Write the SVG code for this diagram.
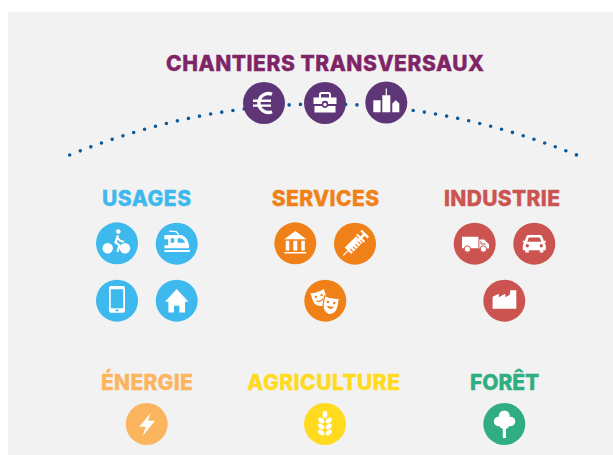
<svg xmlns="http://www.w3.org/2000/svg" width="613" height="455" viewBox="0 0 613 455">
<style>
text{font-family:"Inter","Liberation Sans",sans-serif;font-weight:800;font-size:21px;stroke-width:.35px}
.w{fill:#fff}
.ws{fill:none;stroke:#fff}
.pu{fill:#5e3678}.bl{fill:#3db9ee}.or{fill:#f08119}.re{fill:#cc5450}.en{fill:#fbb55f}.ag{fill:#ffda1f}.fo{fill:#30ae82}
.tp{fill:#7f2466;stroke:#7f2466}.tb{fill:#3db9ee;stroke:#3db9ee}.to{fill:#f08119;stroke:#f08119}.tr{fill:#cc5450;stroke:#cc5450}.te{fill:#fbb55f;stroke:#fbb55f}.ta{fill:#ffda1f;stroke:#ffda1f}.tf{fill:#30ae82;stroke:#30ae82}
</style>
<defs>
<circle id="d" r="21"/>
</defs>
<rect x="8" y="12" width="605" height="443" fill="#f2f2f2"/>
<g id="connectors">
<path d="M69.7 155Q323.200 53 576.700 155" fill="none" stroke="#0a5a9c" stroke-width="3.600" stroke-linecap="round" stroke-dasharray="0 11.305"/>
</g>
<g id="title"><text x="166" y="71.300" class="tp" textLength="318">CHANTIERS TRANSVERSAUX</text></g>
<g id="chantier-euro" transform="translate(264 103)"><use href="#d" class="pu"/>
<path d="M8 -8.800A9.500 9.500 0 1 0 8 8.800" class="ws" stroke-width="3.400"/><path d="M-11 -2.200H7M-11 2.600H7" class="ws" stroke-width="2.400"/></g>
<g id="chantier-mallette" transform="translate(325 103)"><use href="#d" class="pu"/>
<path d="M-5 -5V-8.500Q-5 -10 -3.500 -10H3.500Q5 -10 5 -8.500V-5" class="ws" stroke-width="2"/>
<path class="w" d="M-11.500 -5.500H11.500V1H3.200A3.200 3.200 0 0 0 -3.200 1H-11.500ZM-10.500 3H-3A3.200 3.200 0 0 0 3 3H10.500V9.500H-10.500Z"/>
<circle r="1.700" cy="1.500" class="w"/></g>
<g id="chantier-ville" transform="translate(386.300 102.500)"><use href="#d" class="pu"/>
<path class="w" d="M-13 -2.300H-5.700V9.700H-13ZM-4 -7.300H-.6V-14H.6V-7.300H4V9.700H-4ZM6 1 9.500 -2.300 13 1V9.700H6Z"/></g>

<g id="usages"><text x="102" y="205.700" class="tb" textLength="89">USAGES</text></g>
<g id="usages-velo" transform="translate(117 243.300)"><use href="#d" class="bl"/>
<circle cx="-9.300" cy="5" r="5.200" class="w"/><circle cx="8" cy="5" r="5.200" class="w"/><circle cx="1.300" cy="-11.700" r="2.300" class="w"/>
<path d="M1 -8 -1.500 -1 2.500 2 .5 8.500M0 -6 3 -2.500 7 -1.500" class="ws" stroke-width="2.200"/>
<path d="M-.8 1.500-1.800 6" stroke="#3db9ee" stroke-width="1" fill="none"/></g>
<g id="usages-train" transform="translate(176.700 243.700)"><use href="#d" class="bl"/>
<path class="w" fill-rule="evenodd" d="M-12.300 -8.700H3Q10 -8.700 12.300 1V4.500H-12.300V1.500H-8.500V-4.500H-12.300ZM-6 -5.500V-1H-2.500V-5.500ZM1 -5.500V-1H8.500Q6.500 -5.500 3 -5.500ZM-12.300 6.300H13.300V8.300H-12.300Z"/>
<path d="M-7.500 -12.500-.5 -12 2 -9" class="ws" stroke-width="1.200"/></g>
<g id="usages-mobile" transform="translate(117 300.700)"><use href="#d" class="bl"/>
<path class="w" fill-rule="evenodd" d="M-6 -14.700H6A2 2 0 0 1 8 -12.700V10A2 2 0 0 1 6 12H-6A2 2 0 0 1 -8 10V-12.700A2 2 0 0 1 -6 -14.700ZM-6.200 -11.500V7.500H6.200V-11.500Z"/>
<rect x="-1.500" y="8.800" width="3" height="1.800" class="bl"/></g>
<g id="usages-maison" transform="translate(176.700 300.700)"><use href="#d" class="bl"/>
<path class="w" fill-rule="evenodd" d="M0 -11.700 11.700 1H8.300V11.700H2.700V5H-2.700V11.700H-8.300V1H-11.700Z"/></g>

<g id="services"><text x="271.700" y="205.700" class="to" textLength="107.300">SERVICES</text></g>
<g id="services-musee" transform="translate(295.300 243.300)"><use href="#d" class="or"/>
<path class="w" d="M0 -12.300 11 -4H-11ZM-9.500 -2.500H-6V7.300H-9.500ZM-2 -2.500H2V7.300H-2ZM6 -2.500H9.500V7.300H6ZM-11 8.700H11V10.300H-11Z"/></g>
<g id="services-seringue" transform="translate(355 243.700)"><use href="#d" class="or"/>
<g transform="rotate(-45)">
<path class="w" d="M-16.500 -.6H-9V.6H-16.500ZM-10 -4.500 -8.500 -4.500H6V4.500H-8.500L-10 4.500ZM6 -1.300H12.500V1.300H6ZM12.500 -5H14.800V5H12.500ZM7 -5.500H9V5.500H7Z"/>
<path d="M-7 .5V4.600M-3.500 .5V4.600M0 .5V4.600M3.500 .5V4.600" stroke="#f08119" stroke-width="1.100"/></g></g>
<g id="services-theatre" transform="translate(325.300 300.700)"><use href="#d" class="or"/>
<g transform="translate(-6.300 -3.800) rotate(-18)"><path class="w" d="M-7 -6Q0 -4 7 -6V1Q7 8 0 9.500Q-7 8 -7 1Z"/>
<circle cx="-3" cy="-1" r="1.200" class="or"/><circle cx="3" cy="-1" r="1.200" class="or"/><path d="M-3.500 3Q0 6 3.500 3" fill="none" stroke="#f08119" stroke-width="1.200"/></g>
<g transform="translate(5.500 3.300) rotate(10)"><path class="w" stroke="#f08119" stroke-width="1.200" d="M-7.500 -7Q0 -5 7.500 -7V1Q7.500 9 0 11Q-7.500 9 -7.500 1Z"/>
<circle cx="-3.200" cy="-1.500" r="1.300" class="or"/><circle cx="3.200" cy="-1.500" r="1.300" class="or"/><path d="M-3.800 2.500Q0 7.500 3.800 2.500Z" class="or"/></g></g>

<g id="industrie"><text x="444" y="205.700" class="tr" textLength="116">INDUSTRIE</text></g>
<g id="industrie-camion" transform="translate(474.700 243.700)"><use href="#d" class="re"/>
<path class="w" d="M-12.700 -7H3.700V4.500H-12.700ZM4.700 -4.300H9.500L14.300 .5V4.700H4.700Z"/>
<path d="M6.300 -2.800V.3H11" fill="none" stroke="#cc5450" stroke-width="1"/>
<circle cx="-7.300" cy="5.300" r="3.200" class="w" stroke="#cc5450"/><circle cx="8.700" cy="5.300" r="3.200" class="w" stroke="#cc5450"/></g>
<g id="industrie-voiture" transform="translate(534.300 243.700)"><use href="#d" class="re"/>
<path class="w" fill-rule="evenodd" d="M-6 -8.700H6Q7.500 -8.700 8 -7L9.500 -3H11.500V-1.200H10Q11.500 0 11.500 2V6.500H9V8.700H5.500V6.500H-5.500V8.700H-9V6.500H-11.500V2Q-11.500 0 -10 -1.200H-11.500V-3H-9.500L-8 -7Q-7.500 -8.700 -6 -8.700ZM-5.500 -6.300-7 -2H7L5.500 -6.300Z"/>
<circle cx="-7" cy="2" r="1.700" class="re"/><circle cx="7" cy="2" r="1.700" class="re"/></g>
<g id="industrie-usine" transform="translate(504.300 300.700)"><use href="#d" class="re"/>
<path class="w" d="M-11.700 8V-4L-5.500 -7V-3.500L1 -7V-3.500L5.500 -6 6 -10.500H12V8Z"/></g>

<g id="energie"><text x="101" y="389.700" class="te" textLength="91.700">ÉNERGIE</text></g>
<g id="energie-eclair" transform="translate(146.700 424)"><use href="#d" class="en"/>
<path class="w" d="M4 -11.300-7.300 2.700H-1L-4 12 8.300 -3.300H1.300Z"/></g>
<g id="agriculture"><text x="247.300" y="389.700" class="ta" textLength="152.700">AGRICULTURE</text></g>
<g id="agriculture-ble" transform="translate(325 424)"><use href="#d" class="ag"/>
<ellipse cy="-9.500" rx="2.400" ry="3.800" class="w"/>
<g class="w"><ellipse cx="-3.800" cy="-3.500" rx="2.200" ry="3.600" transform="rotate(-50 -3.800 -3.500)"/><ellipse cx="3.800" cy="-3.500" rx="2.200" ry="3.600" transform="rotate(50 3.800 -3.500)"/>
<ellipse cx="-3.800" cy="2.500" rx="2.200" ry="3.600" transform="rotate(-50 -3.800 2.500)"/><ellipse cx="3.800" cy="2.500" rx="2.200" ry="3.600" transform="rotate(50 3.800 2.500)"/>
<ellipse cx="-3.800" cy="8.500" rx="2.200" ry="3.600" transform="rotate(-50 -3.800 8.500)"/><ellipse cx="3.800" cy="8.500" rx="2.200" ry="3.600" transform="rotate(50 3.800 8.500)"/></g></g>
<g id="foret"><text x="470" y="389.700" class="tf" textLength="69.300">FORÊT</text></g>
<g id="foret-arbre" transform="translate(504.300 424)"><use href="#d" class="fo"/>
<g class="w"><circle cy="-8" r="5.500"/><circle cx="-5.800" cy="-2.500" r="4.700"/><circle cx="6.300" cy="-2.500" r="4.700"/><circle cy="-.5" r="5.500"/><rect x="-1.500" y="0" width="3.200" height="14"/></g></g>
</svg>
